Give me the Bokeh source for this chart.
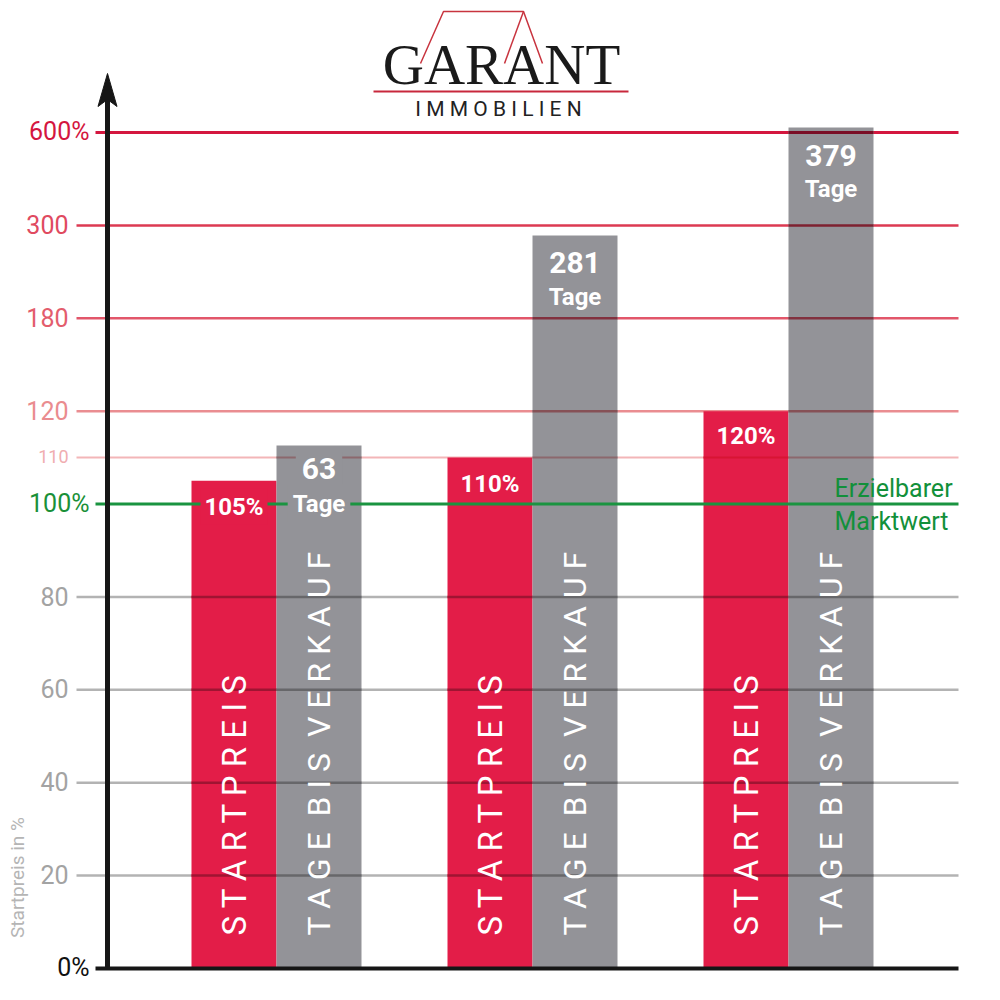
import numpy as np
from bokeh.plotting import figure
from bokeh.models import Range1d
from bokeh.embed import file_html
from bokeh.resources import INLINE
from bokeh.core.properties import value

# ---------------- data ----------------
tick_values = [0, 20, 40, 60, 80, 100, 110, 120, 180, 300, 600]
tick_labels = ["0%", "20", "40", "60", "80", "100%", "110", "120", "180", "300", "600%"]
tick_slots = [0, 1, 2, 3, 4, 5, 5.5, 6, 7, 8, 9]          # equal-step (non-linear) axis positions
groups = [0, 1, 2]
startpreis = [105, 110, 120]
startpreis_labels = ["105%", "110%", "120%"]
tage = [63, 281, 379]
tage_bar_top = [112.6, 287, 616]                          # grey bar tops read on the % axis
marktwert = 100
start_word = "S T A R T P R E I S"
tage_word = "T A G E \u00a0B I S \u00a0V E R K A U F"
y_title = "Startpreis in %"

# ---------------- styling / layout ----------------
RED = "#e31d48"
GREY = "#939398"
GREEN = "#1a9440"
grid_colors = [None, "#b3b3b3", "#b3b3b3", "#b3b3b3", "#b3b3b3", GREEN,
               "#f3b6b8", "#ea8d91", "#e2566a", "#dc3a52", "#d4173f"]
grid_widths = [0, 2.5, 2.5, 2.5, 2.5, 3, 2, 2.5, 2.5, 2.5, 3]
label_colors = ["#111111", "#a3a3a3", "#a3a3a3", "#a3a3a3", "#a3a3a3", "#1a9038",
                "#f0adb0", "#ea8c8f", "#e35d6d", "#e04a5f", "#d41640"]
SLOT = 92.89


def px(r):   # reference pixel x -> data x
    return (r - 276) / 256.0


def py(r):   # reference pixel y -> data y (slot units)
    return (968 - r) / SLOT


def to_slot(v):
    v = np.asarray(v, dtype=float)
    s = np.interp(v, tick_values, tick_slots)
    over = v > tick_values[-1]
    s[over] = tick_slots[-1] + (v[over] - tick_values[-1]) / (tick_values[-1] - tick_values[-2])
    return s


def mult(c1, c2):
    a = [int(c1[i:i + 2], 16) for i in (1, 3, 5)]
    b = [int(c2[i:i + 2], 16) for i in (1, 3, 5)]
    return "#%02x%02x%02x" % tuple(int(x * y / 255) for x, y in zip(a, b))


BW = 85 / 256.0

p = figure(width=984, height=984, output_backend="svg", toolbar_location=None,
           x_range=Range1d(px(0), px(984)), y_range=Range1d(py(984), py(0)),
           x_axis_location=None, y_axis_location=None, min_border=0,
           outline_line_color=None, background_fill_color="white")
p.xgrid.visible = False
p.ygrid.visible = False

# grid lines (under bars)
g_x0, g_x1, g_y, g_c, g_w = [], [], [], [], []
for v, lab, s, c, w in zip(tick_values, tick_labels, tick_slots, grid_colors, grid_widths):
    if c is None or v == marktwert:
        continue
    g_x0.append(px(95) if lab.endswith("%") else px(76))
    g_x1.append(px(958))
    g_y.append(s)
    g_c.append(c)
    g_w.append(w)
p.segment(x0=g_x0, y0=g_y, x1=g_x1, y1=g_y, line_color=g_c, line_width=g_w)

# bars
red_x = [g - BW / 2 for g in groups]
grey_x = [g + BW / 2 for g in groups]
red_top = to_slot(startpreis)
grey_top = to_slot(tage_bar_top)
p.vbar(x=red_x, bottom=0, top=red_top, width=BW, fill_color=RED, line_color=None)
p.vbar(x=grey_x, bottom=0, top=grey_top, width=BW, fill_color=GREY, line_color=None)

# grid lines seen through the bars (multiplied)
m_x0, m_x1, m_y, m_c, m_w = [], [], [], [], []
for bx, top, bc in list(zip(red_x, red_top, [RED] * 3)) + list(zip(grey_x, grey_top, [GREY] * 3)):
    for v, s, c, w in zip(tick_values, tick_slots, grid_colors, grid_widths):
        if c is None or v == marktwert or s >= top - 0.01:
            continue
        m_x0.append(bx - BW / 2)
        m_x1.append(bx + BW / 2)
        m_y.append(s)
        m_c.append(mult(c, bc))
        m_w.append(w)
p.segment(x0=m_x0, y0=m_y, x1=m_x1, y1=m_y, line_color=m_c, line_width=m_w)

# market value line (green, on top)
p.segment(x0=[px(95)], y0=to_slot([marktwert]), x1=[px(958)], y1=to_slot([marktwert]),
          line_color=GREEN, line_width=3)

# axes
p.segment(x0=[px(95)], y0=[0], x1=[px(958)], y1=[0], line_color="#161616", line_width=4)
p.segment(x0=[px(107)], y0=[0], x1=[px(107)], y1=[py(92)], line_color="#161616", line_width=5)
p.patch(x=[px(107), px(97.5), px(107), px(116.5)], y=[py(73), py(106), py(99), py(106)],
        fill_color="#161616", line_color="#161616", line_width=1)

# tick labels
tl_x = [px(89) if t.endswith("%") else px(68) for t in tick_labels]
tl_size = ["18px" if t == "110" else "25px" for t in tick_labels]
p.text(x=tl_x, y=[s + 0.01 for s in tick_slots], text=tick_labels, text_color=label_colors,
       text_font=value("Roboto"), text_font_size=tl_size, text_align="right",
       text_baseline="middle")

p.text(x=[px(17)], y=[py(877)], text=[y_title], angle=np.pi / 2, text_color="#b5b5b5",
       text_font=value("Roboto"), text_font_size="19px", text_align="center",
       text_baseline="middle")

# vertical bar captions
p.text(x=red_x, y=[py(935)] * 3, text=[start_word] * 3, angle=np.pi / 2, text_color="white",
       text_font=value("Roboto"), text_font_size="33px", text_align="left",
       text_baseline="middle")
p.text(x=grey_x, y=[py(935)] * 3, text=[tage_word] * 3, angle=np.pi / 2, text_color="white",
       text_font=value("Roboto"), text_font_size="32px", text_align="left",
       text_baseline="middle")

# value labels
p.text(x=red_x, y=red_top - np.array([26, 26, 25]) / SLOT,
       text=startpreis_labels, text_color="white", text_font=value("Roboto"),
       text_font_style="bold", text_font_size="24px", text_align="center",
       text_baseline="middle", background_fill_color=RED,
       background_fill_alpha=[1, 0, 0], padding=4)
p.text(x=grey_x, y=grey_top - np.array([23, 27, 28]) / SLOT,
       text=[str(t) for t in tage], text_color="white", text_font=value("Roboto"),
       text_font_style="bold", text_font_size="30px", text_align="center",
       text_baseline="middle", background_fill_color=GREY,
       background_fill_alpha=[1, 0, 0], padding=6)
p.text(x=grey_x, y=grey_top - np.array([58, 62, 61]) / SLOT,
       text=["Tage"] * 3, text_color="white", text_font=value("Roboto"),
       text_font_style="bold", text_font_size="24px", text_align="center",
       text_baseline="middle", background_fill_color=GREY,
       background_fill_alpha=[1, 0, 0], padding=5)

# market value caption
p.text(x=[px(834), px(834)], y=[py(488), py(521)], text=["Erzielbarer", "Marktwert"],
       text_color="#12903a", text_font=value("Roboto"), text_font_size="25px",
       text_align="left", text_baseline="middle")

# logo
p.line(x=[px(420), px(443), px(523), px(542)], y=[py(63), py(11), py(11), py(63)],
       line_color="#c8343f", line_width=1.5)
p.line(x=[px(523), px(504)], y=[py(11), py(63)], line_color="#c8343f", line_width=1.5)
p.line(x=[px(373), px(628)], y=[py(91), py(91)], line_color="#c8283c", line_width=2)
p.text(x=[px(501)], y=[py(64)], text=["GARANT"], text_color="#1a1a1a",
       text_font=value("Liberation Serif"), text_font_size="57px", text_align="center",
       text_baseline="middle")
p.text(x=[px(498)], y=[py(108)], text=["I M M O B I L I E N"], text_color="#222222",
       text_font=value("Roboto"), text_font_size="21px", text_align="center",
       text_baseline="middle")

open("out.html", "w").write(file_html(p, INLINE))
